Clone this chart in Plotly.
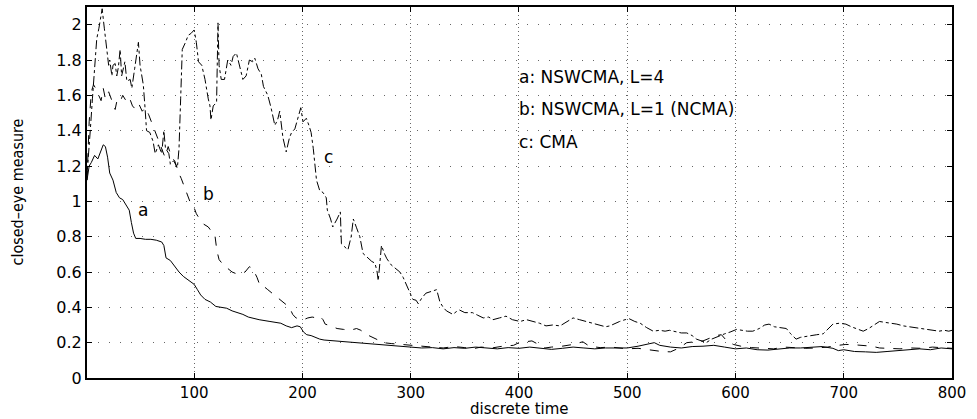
import plotly.graph_objects as go

# ---- data ----
series_a = [(1,1.12),(3,1.2),(5,1.22),(8,1.26),(11,1.24),(14,1.29),(16,1.32),(18,1.31),(20,1.25),(22,1.16),
            (25,1.12),(28,1.05),(31,1.02),(34,1.01),(37,0.98),(40,0.95),(42,0.88),(44,0.82),(46,0.79),(50,0.79),
            (55,0.785),(60,0.785),(65,0.78),(70,0.77),(72,0.75),(74,0.68),(78,0.665),(82,0.63),(86,0.6),(90,0.575),
            (95,0.55),(100,0.53),(103,0.5),(106,0.47),(110,0.445),(115,0.43),(120,0.405),(125,0.4),(130,0.395),(135,0.38),
            (140,0.37),(145,0.36),(150,0.345),(160,0.33),(170,0.32),(180,0.31),(185,0.295),(190,0.285),(195,0.295),(198,0.29),
            (201,0.26),(204,0.245),(208,0.24),(212,0.23),(216,0.22),(220,0.215),(230,0.21),(240,0.205),(250,0.2),(260,0.195),
            (270,0.19),(280,0.185),(290,0.18),(300,0.175),(310,0.17),(320,0.172),(330,0.165),(340,0.172),(350,0.168),(360,0.175),
            (370,0.17),(380,0.165),(390,0.172),(400,0.168),(410,0.175),(420,0.17),(430,0.162),(440,0.168),(450,0.175),(460,0.17),
            (470,0.165),(480,0.17),(490,0.168),(500,0.17),(510,0.18),(520,0.195),(525,0.2),(530,0.185),(540,0.175),(550,0.17),
            (560,0.178),(570,0.18),(580,0.185),(590,0.175),(600,0.165),(610,0.17),(620,0.16),(630,0.158),(640,0.165),(650,0.17),
            (660,0.17),(670,0.175),(680,0.178),(690,0.168),(695,0.155),(700,0.16),(710,0.15),(720,0.148),(730,0.145),(740,0.15),
            (750,0.155),(760,0.16),(770,0.165),(780,0.16),(790,0.17),(800,0.165)]

series_b = [(1,1.12),(3,1.45),(5,1.62),(7,1.66),(9,1.64),(12,1.6),(14,1.57),(16,1.64),(18,1.58),(21,1.62),
            (24,1.57),(27,1.52),(29,1.58),(32,1.57),(34,1.6),(37,1.57),(40,1.59),(43,1.54),(46,1.52),(49,1.55),
            (52,1.51),(55,1.53),(58,1.49),(61,1.44),(64,1.39),(67,1.35),(70,1.3),(73,1.25),(76,1.31),(79,1.25),
            (82,1.23),(85,1.17),(88,1.13),(92,1.06),(96,1.0),(99,0.98),(102,0.93),(105,0.9),(109,0.87),(113,0.855),
            (116,0.83),(119,0.815),(121,0.72),(123,0.67),(127,0.64),(131,0.62),(135,0.6),(139,0.59),(143,0.59),(147,0.6),
            (151,0.63),(154,0.62),(158,0.57),(161,0.52),(164,0.52),(168,0.5),(172,0.48),(176,0.46),(180,0.44),(184,0.42),
            (188,0.4),(191,0.36),(194,0.34),(197,0.335),(201,0.33),(205,0.34),(209,0.345),(213,0.34),(216,0.35),(219,0.33),
            (221,0.305),(226,0.295),(232,0.28),(238,0.275),(244,0.27),(250,0.28),(254,0.27),(258,0.25),(263,0.235),(268,0.22),
            (275,0.2),(282,0.195),(290,0.19),(300,0.185),(310,0.18),(320,0.175),(330,0.17),(340,0.178),(350,0.172),(357,0.165),
            (365,0.175),(375,0.17),(385,0.18),(395,0.185),(400,0.2),(405,0.205),(412,0.21),(418,0.19),(424,0.17),(430,0.175),
            (440,0.18),(450,0.19),(459,0.205),(465,0.18),(475,0.172),(485,0.175),(493,0.17),(500,0.165),(510,0.168),(518,0.16),
            (524,0.155),(532,0.15),(540,0.148),(548,0.17),(555,0.2),(562,0.205),(570,0.21),(576,0.225),(582,0.24),(587,0.245),
            (592,0.21),(598,0.19),(605,0.18),(615,0.172),(625,0.17),(635,0.165),(645,0.175),(655,0.17),(665,0.168),(675,0.17),
            (685,0.175),(695,0.185),(702,0.19),(710,0.188),(718,0.185),(726,0.18),(733,0.17),(742,0.168),(752,0.165),(762,0.17),
            (772,0.168),(782,0.175),(792,0.17),(800,0.168)]

series_c = [(1,1.15),(3,1.3),(4,1.4),(6,1.58),(8,1.75),(10,1.92),(12,1.98),(14,2.06),(15,2.09),(17,1.98),
            (18,1.92),(19,1.85),(21,1.77),(22,1.8),(24,1.71),(25,1.77),(27,1.78),(28.5,1.71),(30,1.76),(31.6,1.86),
            (33,1.71),(36,1.79),(37.8,1.68),(40.9,1.69),(42.4,1.64),(45,1.75),(48.5,1.9),(50,1.77),(53,1.66),(54.6,1.53),
            (56,1.4),(59,1.39),(62,1.34),(64,1.27),(67,1.32),(70,1.27),(72,1.4),(73.5,1.3),(76.6,1.27),(78,1.21),
            (81,1.23),(84.5,1.19),(86,1.3),(87.5,1.58),(89,1.86),(92,1.9),(94.5,1.94),(97,1.95),(100,1.97),(102,1.9),
            (104,1.79),(107,1.77),(110,1.69),(113,1.58),(114.6,1.54),(115.5,1.46),(117.6,1.54),(120.7,1.56),(122,2.01),(123,1.77),
            (125,1.69),(128,1.69),(131,1.8),(134,1.77),(136,1.82),(139,1.84),(142,1.77),(145,1.69),(148,1.71),(151,1.8),
            (154,1.79),(156,1.81),(159,1.75),(162,1.72),(164,1.65),(168,1.6),(171,1.53),(174.5,1.43),(177,1.46),(179,1.51),
            (182,1.36),(185,1.28),(188,1.36),(190,1.39),(193,1.41),(196,1.47),(198.5,1.53),(200.5,1.45),(203.6,1.47),(206,1.43),
            (208,1.39),(210,1.3),(211.5,1.19),(213,1.12),(216,1.06),(219,1.05),(222,1.02),(223,0.95),(226,0.9),(228,0.855),
            (232,0.9),(235,0.94),(236,0.76),(239,0.74),(242,0.725),(245,0.8),(247,0.9),(250,0.85),(253,0.8),(256,0.705),
            (260,0.68),(264,0.66),(267,0.65),(269,0.6),(270,0.55),(272,0.7),(273,0.75),(276,0.7),(278,0.675),(282,0.64),
            (286,0.62),(290,0.6),(293,0.57),(296,0.53),(299,0.49),(302,0.445),(305,0.44),(307,0.42),(310,0.45),(314,0.48),
            (319,0.49),(324,0.5),(327,0.43),(330,0.4),(333,0.38),(336,0.37),(339,0.36),(342,0.375),(345,0.385),(350,0.37),
            (357,0.37),(362,0.355),(367,0.34),(372,0.345),(376,0.33),(382,0.34),(388,0.35),(394,0.33),(401,0.32),(407,0.33),
            (413,0.32),(419,0.31),(425,0.295),(431,0.3),(438,0.295),(444,0.32),(450,0.34),(456,0.33),(462,0.32),(468,0.31),
            (475,0.3),(480,0.29),(484,0.295),(489,0.31),(493,0.32),(498,0.33),(502,0.335),(507,0.32),(512,0.31),(518,0.285),
            (524,0.265),(530,0.27),(535,0.265),(539,0.27),(545,0.26),(550,0.255),(555,0.255),(560,0.24),(564,0.22),(568,0.21),
            (573,0.2),(578,0.22),(585,0.24),(590,0.25),(595,0.26),(601,0.275),(606,0.27),(611,0.265),(616,0.265),(622,0.28),
            (627,0.3),(631,0.305),(636,0.29),(641,0.285),(647,0.28),(651,0.25),(656,0.22),(660,0.23),(664,0.235),(669,0.24),
            (675,0.245),(681,0.25),(686,0.28),(690,0.305),(696,0.31),(702,0.305),(707,0.29),(712,0.28),(718,0.265),(723,0.28),
            (728,0.3),(733,0.32),(738,0.315),(744,0.31),(749,0.305),(755,0.295),(761,0.29),(767,0.285),(773,0.28),(779,0.275),
            (784,0.27),(788,0.265),(793,0.27),(797,0.265),(800,0.27)]

x_ticks = [100, 200, 300, 400, 500, 600, 700, 800]
y_ticks = [0, 0.2, 0.4, 0.6, 0.8, 1, 1.2, 1.4, 1.6, 1.8, 2]
y_tick_labels = ["0", "0.2", "0.4", "0.6", "0.8", "1", "1.2", "1.4", "1.6", "1.8", "2"]

curve_labels = ["a", "b", "c"]
curve_label_x = [53, 113, 224]
curve_label_y = [0.95, 1.04, 1.25]

legend_lines = ["a: NSWCMA, L=4", "b: NSWCMA, L=1 (NCMA)", "c: CMA"]
legend_x = 398
legend_y = [1.705, 1.52, 1.335]

x_title = "discrete time"
y_title = "closed–eye measure"

# ---- figure ----
FONT = "DejaVu Sans, Liberation Sans, Arial"
fig = go.Figure()
for data, dash, name in [(series_a, "solid", "a"), (series_b, "dash", "b"), (series_c, "dashdot", "c")]:
    fig.add_trace(go.Scatter(
        x=[p[0] for p in data], y=[p[1] for p in data],
        mode="lines", name=name,
        line=dict(color="black", width=1, dash=dash),
        showlegend=False,
    ))

for t, xx, yy in zip(curve_labels, curve_label_x, curve_label_y):
    fig.add_annotation(x=xx, y=yy, text=t, showarrow=False, xanchor="center", yanchor="middle",
                       font=dict(family=FONT, size=17, color="black"))

for t, yy in zip(legend_lines, legend_y):
    fig.add_annotation(x=legend_x, y=yy, text=t, showarrow=False, xanchor="left", yanchor="middle",
                       font=dict(family=FONT, size=17, color="black"))

# axis titles
fig.add_annotation(xref="paper", yref="paper", x=0.5, y=0, yshift=-41, text=x_title, showarrow=False,
                   xanchor="center", yanchor="bottom", borderpad=0,
                   font=dict(family=FONT, size=15, color="black"))
fig.add_annotation(xref="paper", yref="paper", x=0, y=0.5, xshift=-70, text=y_title, showarrow=False,
                   textangle=-90, xanchor="center", yanchor="middle",
                   font=dict(family="Liberation Sans Narrow, DejaVu Sans Condensed, Arial Narrow", size=16, color="black"))

fig.update_layout(
    width=977, height=419,
    margin=dict(l=87, r=25, t=7, b=41, autoexpand=False),
    paper_bgcolor="white", plot_bgcolor="white",
    xaxis=dict(
        range=[1, 800], tickvals=x_ticks, ticktext=[str(v) for v in x_ticks],
        showgrid=True, gridcolor="#666", griddash="1px,3px", gridwidth=1,
        showline=True, linecolor="black", linewidth=2, mirror="ticks",
        ticks="inside", ticklen=5, tickcolor="black",
        tickfont=dict(family=FONT, size=15, color="black"),
        zeroline=False, automargin=False,
    ),
    yaxis=dict(
        range=[0, 2.1], tickvals=y_ticks, ticktext=y_tick_labels,
        showgrid=True, gridcolor="#666", griddash="1px,10px", gridwidth=1,
        showline=True, linecolor="black", linewidth=2, mirror="ticks",
        ticks="inside", ticklen=5, tickcolor="black",
        tickfont=dict(family=FONT, size=16, color="black"),
        zeroline=False, automargin=False,
    ),
)

fig.write_html("out.html", config={"displayModeBar": False},
               post_script="document.body.style.margin='0';document.body.style.overflow='hidden';")
